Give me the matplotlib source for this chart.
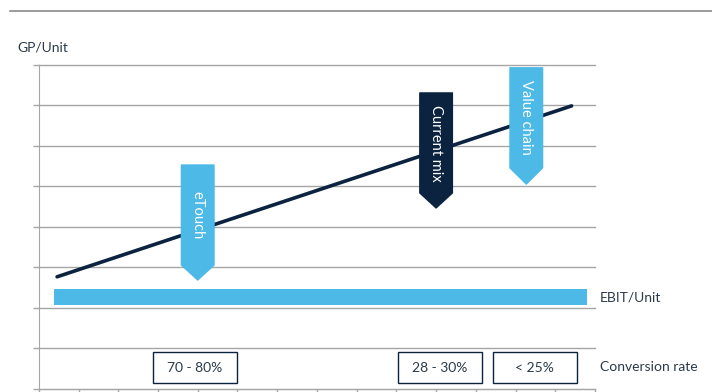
import matplotlib.pyplot as plt
from matplotlib.patches import Polygon, Rectangle
from matplotlib.lines import Line2D

plt.rcParams["font.family"] = ["Lato", "DejaVu Sans"]

NAVY = "#0c2340"
LIGHT = "#4cb9e6"
GRID = "#a6a6a6"
TEXT = "#2b3a4a"

# GP/Unit trend line (start, end)
line_x = [0.46, 13.41]
line_y = [2.77, 6.99]

# EBIT/Unit band
ebit_x = [0.38, 13.79]
ebit_y = [2.07, 2.47]

# banners: label, centre x, top, body bottom, tip, colour
banner_labels = ["eTouch", "Current mix", "Value chain"]
banner_x = [4.0, 10.0, 12.27]
banner_top = [5.53, 7.31, 7.93]
banner_body = [3.06, 4.84, 5.46]
banner_tip = [2.69, 4.47, 5.06]
banner_colors = [LIGHT, NAVY, LIGHT]
banner_half = 0.41

# conversion rate boxes
box_labels = ["70 - 80%", "28 - 30%", "< 25%"]
box_x0 = [2.87, 9.03, 11.42]
box_x1 = [4.98, 11.15, 13.54]
box_y = [0.15, 0.91]

fig = plt.figure(figsize=(7.12, 3.92), dpi=100)
ax = fig.add_axes([0.0545, 0.0077, 0.7812, 0.8265])
ax.set_xlim(0, 14)
ax.set_ylim(0, 8)

ax.set_yticks(range(9))
ax.set_xticks(range(15))
ax.set_yticklabels([])
ax.set_xticklabels([])
ax.grid(axis="y", color=GRID, linewidth=1)
for gl in ax.get_ygridlines():
    gl.set_clip_on(False)
ax.tick_params(axis="y", length=4, color=GRID, width=1)
ax.tick_params(axis="x", length=3, color=GRID, width=1)
for s in ["top", "right"]:
    ax.spines[s].set_visible(False)
for s in ["left", "bottom"]:
    ax.spines[s].set_color(GRID)
ax.set_axisbelow(True)

# EBIT band
ax.add_patch(Rectangle((ebit_x[0], ebit_y[0]), ebit_x[1] - ebit_x[0],
                       ebit_y[1] - ebit_y[0], color=LIGHT, lw=0, zorder=2))

# trend line
ax.plot(line_x, line_y, color=NAVY, lw=2.6, solid_capstyle="round", zorder=3)

# banners
for lab, cx, top, body, tip, col in zip(banner_labels, banner_x, banner_top,
                                        banner_body, banner_tip, banner_colors):
    pts = [(cx - banner_half, top), (cx + banner_half, top),
           (cx + banner_half, body), (cx, tip), (cx - banner_half, body)]
    ax.add_patch(Polygon(pts, closed=True, facecolor=col, edgecolor=col,
                         lw=1, joinstyle="round", zorder=4))
    ax.text(cx, (top + body) / 2, lab, rotation=270, color="white",
            ha="center", va="center", fontsize=10.5, zorder=5)

# conversion rate boxes
for lab, x0, x1 in zip(box_labels, box_x0, box_x1):
    ax.add_patch(Rectangle((x0, box_y[0]), x1 - x0, box_y[1] - box_y[0],
                           facecolor="white", edgecolor=NAVY, lw=1, zorder=4))
    ax.text((x0 + x1) / 2, (box_y[0] + box_y[1]) / 2, lab, color=TEXT,
            ha="center", va="center", fontsize=10, zorder=5)

# side labels
fig.text(17 / 712, 1 - 47 / 392, "GP/Unit", color=TEXT, fontsize=10,
         va="center", ha="left")
fig.text(600 / 712, 1 - 297 / 392, "EBIT/Unit", color=TEXT, fontsize=10,
         va="center", ha="left")
fig.text(600 / 712, 1 - 367 / 392, "Conversion rate", color=TEXT, fontsize=10,
         va="center", ha="left")

# top rule
fig.add_artist(Line2D([10 / 712, 1.0], [1 - 10.5 / 392] * 2,
                      transform=fig.transFigure, color="#8a8a8a", lw=1.2))

fig.savefig("out.png", dpi=100)
